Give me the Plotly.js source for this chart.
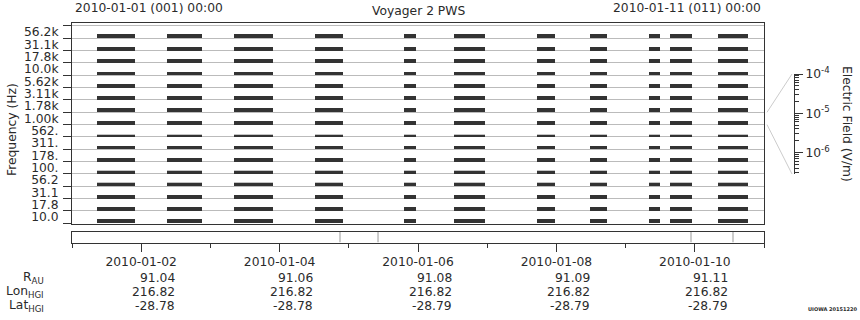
<!DOCTYPE html>
<html>
<head>
<meta charset="utf-8">
<script src="https://cdn.plot.ly/plotly-3.0.1.min.js"></script>
<style>html,body{margin:0;padding:0;background:#fff;}#chart{width:860px;height:320px;}</style>
</head>
<body>
<div id="chart"></div>
<script>
// ---- data ----
const channelLabels = ['10.0','17.8','31.1','56.2','100.','178.','311.','562.','1.00k','1.78k','3.11k','5.62k','10.0k','17.8k','31.1k','56.2k'];
// typical field level per channel (V/m), bottom channel first
const channelLevel = [2.3e-6,1.6e-6,1.6e-6,1.3e-6,1.3e-6,1.6e-6,1.2e-6,7e-7,1.8e-6,1.8e-6,1.8e-6,1.9e-6,1.7e-6,1.9e-6,1.9e-6,1.9e-6];
// lighter noisy peaks (V/m), 0 = none
const channelPeak  = [0,0,0,1.8e-6,1.8e-6,0,0,1.4e-6,0,0,0,0,0,0,0,0];
// data coverage intervals
const segStart = ['2010-01-01 08:40','2010-01-02 08:57','2010-01-03 08:11','2010-01-04 12:17','2010-01-05 19:09','2010-01-06 12:29','2010-01-07 17:16','2010-01-08 11:40','2010-01-09 08:07','2010-01-09 15:24','2010-01-10 08:02'];
const segEnd   = ['2010-01-01 21:50','2010-01-02 21:05','2010-01-03 21:43','2010-01-04 21:59','2010-01-05 23:18','2010-01-06 23:14','2010-01-07 23:31','2010-01-08 17:33','2010-01-09 11:56','2010-01-09 23:02','2010-01-10 18:27'];
// event markers in the lower strip
const eventTimes = ['2010-01-04 20:57','2010-01-05 10:08','2010-01-09 22:41','2010-01-10 13:15'];
// ephemeris table
const tickDates = ['2010-01-02','2010-01-04','2010-01-06','2010-01-08','2010-01-10'];
const minorDates = ['2010-01-01','2010-01-03','2010-01-05','2010-01-07','2010-01-09','2010-01-11'];
const rAU = ['91.04','91.06','91.08','91.09','91.11'];
const lonHGI = ['216.82','216.82','216.82','216.82','216.82'];
const latHGI = ['-28.78','-28.78','-28.79','-28.79','-28.79'];
const efTickVals = [1e-6,1e-5,1e-4];
const efTickText = ['10<sup>-6</sup>','10<sup>-5</sup>','10<sup>-4</sup>'];
const efMinor = [3e-7,4e-7,5e-7,6e-7,7e-7,8e-7,9e-7,2e-6,3e-6,4e-6,5e-6,6e-6,7e-6,8e-6,9e-6,2e-5,3e-5,4e-5,5e-5,6e-5,7e-5,8e-5,9e-5];

// ---- geometry helpers ----
const W=860,H=320;
const px = x => x/W, py = y => 1 - y/H;
const LOGMIN=-6.55, LOGMAX=-4.0;
const Y_RANGE=[-0.06,16.24];
const YD=[py(224),py(23)];
const FONT='DejaVu Sans, sans-serif';
const TXT='#2a2a2a';
const toMs = s => Date.parse(s.replace(' ','T')+':00Z');
const chanH = v => (Math.log10(v)-LOGMIN)/(LOGMAX-LOGMIN);
const chanToPaper = c => YD[0] + (c - Y_RANGE[0])/(Y_RANGE[1]-Y_RANGE[0])*(YD[1]-YD[0]);

function barTrace(levels, color){
  const x=[],w=[],b=[],y=[];
  levels.forEach((lv,c)=>{
    if(!lv) return;
    segStart.forEach((s,i)=>{
      const a=toMs(s), e=toMs(segEnd[i]);
      x.push((a+e)/2); w.push(e-a); b.push(c); y.push(chanH(lv));
    });
  });
  return {type:'bar', x:x, width:w, base:b, y:y, xaxis:'x', yaxis:'y',
    marker:{color:color, line:{width:0}}, showlegend:false, hoverinfo:'skip'};
}

const evX=[],evY=[];
eventTimes.forEach(t=>{evX.push(t,t,null);evY.push(0,1,null);});

const traces=[
  barTrace(channelPeak,'#c4c4c4'),
  barTrace(channelLevel,'#333333'),
  {type:'scatter',mode:'lines',x:[],y:[],xaxis:'x',yaxis:'y2',showlegend:false},
  {type:'scatter',mode:'lines',x:[],y:[],xaxis:'x3',yaxis:'y3',showlegend:false},
  {type:'scatter',mode:'lines',x:evX,y:evY,xaxis:'x2',yaxis:'y4',line:{color:'#999',width:1},showlegend:false,hoverinfo:'skip'}
];

const XD=[px(72),px(764)];
const XR=['2010-01-01','2010-01-11'];
const ann=[];
function A(text,x,y,xa,extra){ann.push(Object.assign({text:text,x:x,y:y,xref:'paper',yref:'paper',xanchor:xa,yanchor:'middle',showarrow:false,font:{family:FONT,size:12.3,color:TXT}},extra||{}));}
A('2010-01-01 (001) 00:00',px(73),py(8),'left');
A('Voyager 2 PWS',px(418),py(11),'center');
A('2010-01-11 (011) 00:00',px(763),py(8),'right');
A('Frequency (Hz)',px(12),py(130),'center',{textangle:-90});
A('Electric Field (V/m)',px(847),py(124),'center',{textangle:90});
A('R<sub>AU</sub>',px(46),py(278),'right');
A('Lon<sub>HGI</sub>',px(46),py(292),'right');
A('Lat<sub>HGI</sub>',px(46),py(306),'right');
[[rAU,278],[lonHGI,292],[latHGI,306]].forEach(([arr,yy])=>{
  arr.forEach((t,i)=>{ann.push({text:t,x:tickDates[i],xref:'x2',y:py(yy),yref:'paper',xanchor:'right',yanchor:'middle',xshift:35.5,showarrow:false,font:{family:FONT,size:12.3,color:TXT}});});
});
ann.push({text:'<b>UIOWA 20151220</b>',x:px(806),y:py(309),xref:'paper',yref:'paper',xanchor:'left',yanchor:'middle',showarrow:false,font:{family:FONT,size:5,color:TXT}});

// fan lines linking the 1.00k strip to the field scale
const fanStrip=channelLabels.indexOf('1.00k');
const shapes=[
  {type:'line',xref:'paper',yref:'paper',x0:px(767),y0:chanToPaper(fanStrip+1),x1:px(792),y1:py(74),line:{color:'#ccc',width:1}},
  {type:'line',xref:'paper',yref:'paper',x0:px(767),y0:chanToPaper(fanStrip),x1:px(792),y1:py(174),line:{color:'#ccc',width:1}}
];

const layout={
  width:W,height:H,margin:{l:0,r:0,t:0,b:0},
  paper_bgcolor:'#fff',plot_bgcolor:'rgba(0,0,0,0)',
  font:{family:FONT,size:12.3,color:TXT},
  barmode:'overlay',bargap:0,showlegend:false,
  xaxis:{domain:XD,type:'date',range:XR,anchor:'y',showline:true,mirror:true,linecolor:'#333',linewidth:1,
    ticks:'',showticklabels:false,showgrid:false,zeroline:false,fixedrange:true},
  yaxis:{domain:YD,range:Y_RANGE,anchor:'x',tickmode:'array',tickvals:channelLabels.map((_,i)=>i).concat([16]),
    ticks:'outside',ticklen:8,tickcolor:'#333',tickwidth:1,showticklabels:false,showgrid:true,gridcolor:'#bbb',gridwidth:1,
    showline:true,mirror:true,linecolor:'#333',linewidth:1,zeroline:false,fixedrange:true},
  yaxis2:{overlaying:'y',range:Y_RANGE,anchor:'x',side:'left',tickmode:'array',tickvals:channelLabels.map((_,i)=>i+0.5),ticktext:channelLabels,
    ticks:'outside',ticklen:10,tickcolor:'rgba(0,0,0,0)',showgrid:false,showline:false,zeroline:false,
    tickfont:{family:FONT,size:12.3,color:TXT},fixedrange:true},
  xaxis3:{domain:[px(780),px(794)],anchor:'y3',visible:false,range:[0,1],fixedrange:true},
  yaxis3:{domain:[py(174),py(74)],type:'log',range:[LOGMIN,LOGMAX],anchor:'x3',side:'right',showline:true,linecolor:'#333',linewidth:1,
    tickmode:'array',tickvals:efTickVals,ticktext:efTickText,ticks:'outside',ticklen:8,tickcolor:'#333',
    minor:{tickmode:'array',tickvals:efMinor,ticks:'outside',ticklen:4,tickcolor:'#333'},
    showgrid:false,zeroline:false,tickfont:{family:FONT,size:12.3,color:TXT},fixedrange:true},
  xaxis2:{domain:XD,type:'date',range:XR,anchor:'y4',showline:true,mirror:true,linecolor:'#333',linewidth:1,
    tickmode:'array',tickvals:tickDates,ticktext:tickDates,ticks:'outside',ticklen:8,tickcolor:'#333',
    minor:{tickmode:'array',tickvals:minorDates,ticks:'outside',ticklen:4,tickcolor:'#333'},
    showgrid:false,zeroline:false,tickfont:{family:FONT,size:12.3,color:TXT},fixedrange:true},
  yaxis4:{domain:[py(242.5),py(232)],range:[0,1],anchor:'x2',showline:true,mirror:true,linecolor:'#333',linewidth:1,
    ticks:'',showticklabels:false,showgrid:false,zeroline:false,fixedrange:true},
  annotations:ann,shapes:shapes
};
Plotly.newPlot('chart',traces,layout,{staticPlot:true,displayModeBar:false});
</script>
</body>
</html>
